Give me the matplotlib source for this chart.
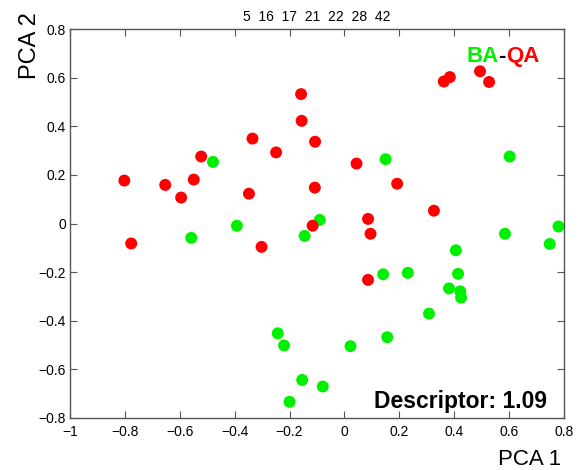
import matplotlib
matplotlib.use("Agg")
import matplotlib.pyplot as plt

plt.rcParams['font.family'] = ['Liberation Sans', 'DejaVu Sans']

# PCA scores
ba_x = [-0.479, -0.558, -0.392, -0.145, -0.090, 0.150, 0.602, 0.585, 0.780, 0.748,
        0.406, 0.141, 0.231, 0.414, 0.381, 0.422, 0.425, 0.308, 0.156, 0.022,
        -0.243, -0.220, -0.154, -0.200, -0.079]
ba_y = [0.254, -0.059, -0.009, -0.051, 0.015, 0.265, 0.276, -0.042, -0.012, -0.084,
        -0.110, -0.209, -0.203, -0.207, -0.267, -0.279, -0.305, -0.371, -0.468, -0.505,
        -0.452, -0.502, -0.644, -0.734, -0.671]

qa_x = [-0.802, -0.777, -0.653, -0.595, -0.549, -0.522, -0.348, -0.335, -0.302, -0.249,
        -0.158, -0.156, -0.107, -0.108, -0.116, 0.044, 0.192, 0.086, 0.095, 0.086,
        0.326, 0.362, 0.384, 0.494, 0.527]
qa_y = [0.177, -0.082, 0.159, 0.107, 0.181, 0.276, 0.123, 0.350, -0.096, 0.293,
        0.533, 0.423, 0.337, 0.148, -0.009, 0.247, 0.164, 0.019, -0.042, -0.232,
        0.053, 0.585, 0.603, 0.627, 0.583]

selected = [5, 16, 17, 21, 22, 28, 42]
descriptor = 1.09

x_ticks = [-1, -0.8, -0.6, -0.4, -0.2, 0, 0.2, 0.4, 0.6, 0.8]
y_ticks = [-0.8, -0.6, -0.4, -0.2, 0, 0.2, 0.4, 0.6, 0.8]


def fmt(v):
    return f'{v:g}'.replace('-', '\u2212')


fig = plt.figure(figsize=(5.78, 4.70), dpi=100)
ax = fig.add_axes([0.1211, 0.111, 0.8547, 0.8267])

ax.scatter(ba_x, ba_y, s=74, c='#00f000', edgecolors='none', zorder=2)
ax.scatter(qa_x, qa_y, s=74, c='#ff0000', edgecolors='none', zorder=3)

ax.set_xlim(-1, 0.8)
ax.set_ylim(-0.8, 0.8)
ax.set_xticks(x_ticks)
ax.set_yticks(y_ticks)
ax.set_xticklabels([fmt(v) for v in x_ticks])
ax.set_yticklabels([fmt(v) for v in y_ticks])
ax.tick_params(direction='in', top=True, right=True, length=5, width=0.8,
               color='#555555', labelsize=10)
ax.tick_params(axis='x', pad=5)
ax.tick_params(axis='y', pad=3)
for sp in ax.spines.values():
    sp.set_color('#555555')
    sp.set_linewidth(1)

ax.set_title('  '.join(str(v) for v in selected), fontsize=10, pad=6)

fig.text(0.071, 0.974, 'PCA 2', rotation=90, ha='right', va='top', fontsize=17)
fig.text(0.971, 0.011, 'PCA 1', ha='right', va='baseline', fontsize=16)

# multi-coloured BA-QA legend text
t1 = ax.text(0.802, 0.917, 'BA', transform=ax.transAxes, color='#00f000',
             fontsize=16, fontweight='bold', va='baseline')
t2 = ax.annotate('-', xy=(1, 0), xycoords=t1, va='bottom', color='black',
                 fontsize=16, fontweight='bold')
ax.annotate('QA', xy=(1, 0), xycoords=t2, va='bottom', color='#ff0000',
            fontsize=16, fontweight='bold')

ax.text(0.966, 0.025, f'Descriptor: {descriptor:.2f}', transform=ax.transAxes,
        ha='right', va='baseline', fontsize=16.5, fontweight='bold')

fig.savefig('out.png', dpi=100)
